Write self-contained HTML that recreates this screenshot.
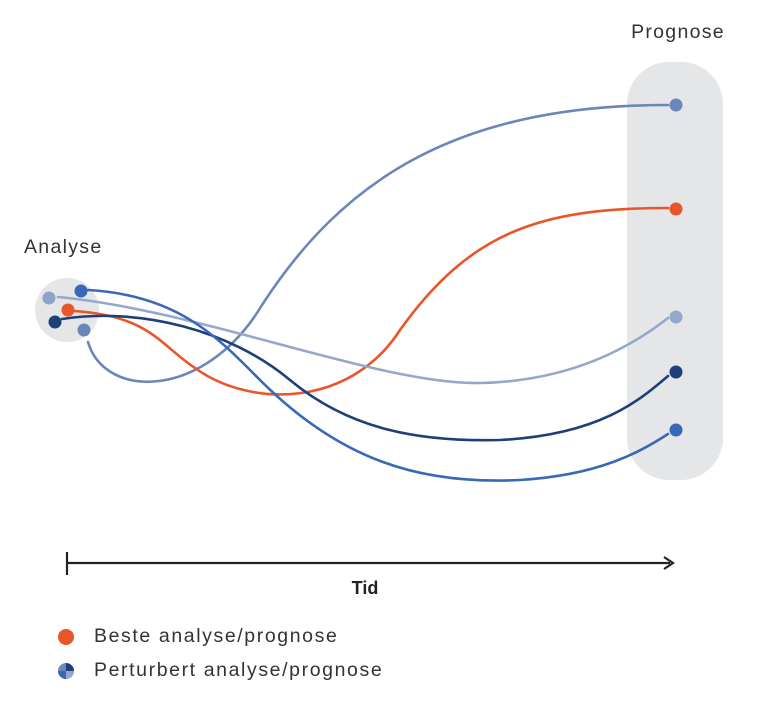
<!DOCTYPE html>
<html><head><meta charset="utf-8"><style>
html,body{margin:0;padding:0;background:#fff;}
svg{display:block;font-family:"Liberation Sans","DejaVu Sans",sans-serif;}
</style></head><body>
<svg width="768" height="713" viewBox="0 0 768 713" xmlns="http://www.w3.org/2000/svg">
<rect x="627" y="62" width="96" height="418" rx="42" fill="#e5e6e8"/>
<circle cx="67" cy="310" r="32" fill="#e5e6e8"/>
<text x="678" y="38" font-size="19.5" letter-spacing="1.3" fill="#333" text-anchor="middle">Prognose</text>
<text x="24" y="253" font-size="19.5" letter-spacing="1.3" fill="#333">Analyse</text>
<g fill="none" stroke-width="2.6" stroke-linecap="round">
<path d="M88,342 C105,400 205,400 262,305 C340,185 450,105 668,105" stroke="#6b86b8"/>
<path d="M74,311 C150,316 160,345 195,368 C250,408 350,408 400,330 C470,232 540,208 668,208" stroke="#e8562a"/>
<path d="M58,297 C200,310 380,385 480,383 C580,381 640,340 668,318" stroke="#94a8cc"/>
<path d="M62,319 C140,307 230,330 290,380 C350,430 420,442 500,440 C600,435 640,400 668,376" stroke="#1f3f7a"/>
<path d="M88,290 C180,295 220,340 260,380 C340,460 420,485 520,480 C600,475 640,452 668,434" stroke="#3a68b8"/>
</g>
<circle cx="49" cy="298" r="6.5" fill="#8fa3c9"/>
<circle cx="81" cy="291" r="6.5" fill="#3a68b8"/>
<circle cx="68" cy="310" r="6.5" fill="#e8562a"/>
<circle cx="55" cy="322" r="6.5" fill="#1f3f7a"/>
<circle cx="84" cy="330" r="6.5" fill="#6b86b8"/>
<circle cx="676" cy="105" r="6.5" fill="#6b86b8"/>
<circle cx="676" cy="209" r="6.5" fill="#e8562a"/>
<circle cx="676" cy="317" r="6.5" fill="#94a8cc"/>
<circle cx="676" cy="372" r="6.5" fill="#1f3f7a"/>
<circle cx="676" cy="430" r="6.5" fill="#3a68b8"/>
<line x1="67" y1="563" x2="670" y2="563" stroke="#222" stroke-width="2.2"/>
<line x1="67" y1="552" x2="67" y2="575" stroke="#222" stroke-width="2.2"/>
<path d="M664,557 L673,563 L664,569" fill="none" stroke="#222" stroke-width="2.2"/>
<text x="365" y="594" font-size="18" font-weight="bold" fill="#222" text-anchor="middle">Tid</text>
<circle cx="66" cy="637" r="8" fill="#e8562a"/>
<text x="94" y="642" font-size="19.5" letter-spacing="1.6" fill="#333">Beste analyse/prognose</text>
<circle cx="66" cy="671" r="8" fill="#6b86b8"/>
<path d="M66,671 L66,663 A8,8 0 0 1 74,671 Z" fill="#1f3f7a"/>
<path d="M66,671 L58,671 A8,8 0 0 0 66,679 Z" fill="#3a68b8"/>
<path d="M66,671 L74,671 A8,8 0 0 1 66,679 Z" fill="#94a8cc"/>
<text x="94" y="676" font-size="19.5" letter-spacing="1.6" fill="#333">Perturbert analyse/prognose</text>
</svg>
</body></html>
